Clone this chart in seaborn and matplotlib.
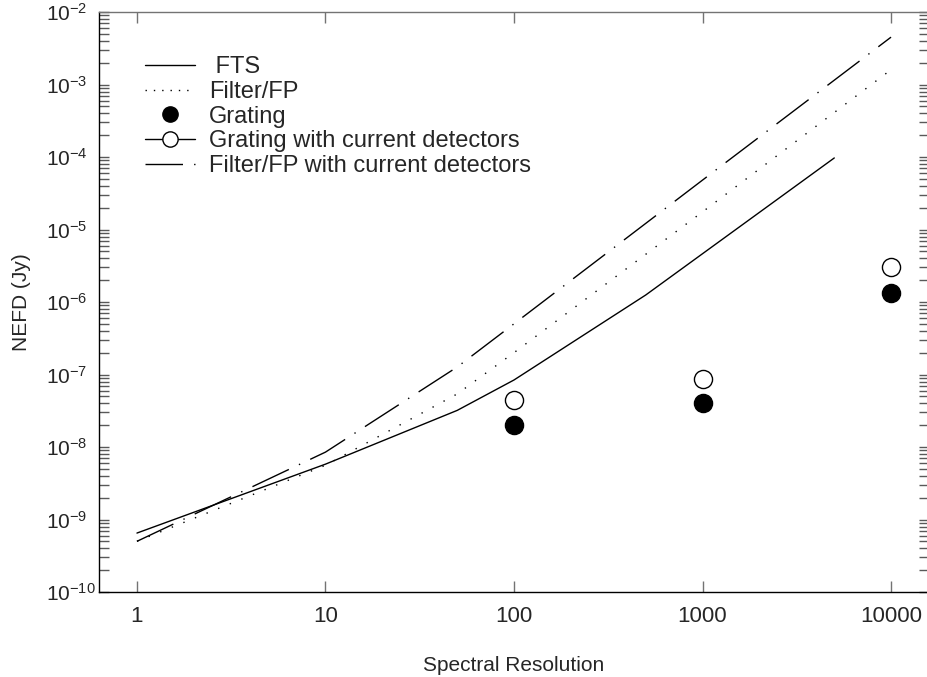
import matplotlib
matplotlib.use("Agg")
import matplotlib.pyplot as plt
from matplotlib.lines import Line2D
from matplotlib.ticker import (LogLocator, NullLocator, FixedLocator,
                               FixedFormatter, LogFormatterSciNotation)
import pandas as pd
import seaborn as sns

# data (spectral resolution vs NEFD in Jy)
r_fts = [1, 10, 50, 100, 500, 5000]
nefd_fts = [6.5e-10, 5.8e-9, 3.2e-8, 8.4e-8, 1.25e-6, 9.7e-5]

r_filter = [1, 10, 50, 100, 1000, 10000]
nefd_filter = [5.0e-10, 5.6e-9, 5.4e-8, 2.0e-7, 1.75e-5, 1.6e-3]

r_filter_cur = [1, 10, 50, 100, 1000, 10000]
nefd_filter_cur = [5.0e-10, 8.5e-9, 1.27e-7, 5.0e-7, 4.8e-5, 4.5e-3]

r_grating = [100, 1000, 10000]
nefd_grating = [2.0e-8, 4.0e-8, 1.33e-6]
nefd_grating_cur = [4.4e-8, 8.7e-8, 3.0e-6]

x_ticks = [1, 10, 100, 1000, 10000]
x_ticklabels = ["1", "10", "100", "1000", "10000"]
y_ticks = [1e-10, 1e-9, 1e-8, 1e-7, 1e-6, 1e-5, 1e-4, 1e-3, 1e-2]

sns.set_style("ticks")
plt.rcParams["font.family"] = ["Liberation Sans", "DejaVu Sans"]
plt.rcParams["mathtext.fontset"] = "custom"
plt.rcParams["mathtext.rm"] = "Liberation Sans"
plt.rcParams["mathtext.it"] = "Liberation Sans:italic"
plt.rcParams["mathtext.default"] = "regular"

fig = plt.figure(figsize=(9.27, 6.77), dpi=100)
ax = fig.add_axes([99 / 927, 1 - 592 / 677, 830 / 927, 580 / 677])

fts = pd.DataFrame({"R": r_fts, "NEFD": nefd_fts})
filt = pd.DataFrame({"R": r_filter, "NEFD": nefd_filter})
filt_cur = pd.DataFrame({"R": r_filter_cur, "NEFD": nefd_filter_cur})
grat = pd.DataFrame({"R": r_grating, "NEFD": nefd_grating, "NEFD_cur": nefd_grating_cur})

sns.lineplot(data=fts, x="R", y="NEFD", ax=ax, color="black", lw=1.0)
sns.lineplot(data=filt, x="R", y="NEFD", ax=ax, color="black", lw=1.0)
ax.lines[-1].set_dashes((1, 8))
sns.lineplot(data=filt_cur, x="R", y="NEFD", ax=ax, color="black", lw=1.0)
ax.lines[-1].set_dashes((29, 8, 1, 8))

sns.scatterplot(data=grat, x="R", y="NEFD_cur", ax=ax, s=170, color="white",
                edgecolor="black", linewidth=1.0, zorder=3)
sns.scatterplot(data=grat, x="R", y="NEFD", ax=ax, s=170, color="black",
                edgecolor="black", linewidth=1.0, zorder=3)

ax.set_xscale("log")
ax.set_yscale("log")
ax.set_xlim(0.629, 15900)
ax.set_ylim(1e-10, 1e-2)

ax.xaxis.set_major_locator(FixedLocator(x_ticks))
ax.xaxis.set_major_formatter(FixedFormatter(x_ticklabels))
ax.xaxis.set_minor_locator(NullLocator())
ax.yaxis.set_major_locator(FixedLocator(y_ticks))
ax.yaxis.set_major_formatter(LogFormatterSciNotation())
ax.yaxis.set_minor_locator(LogLocator(base=10, subs=range(2, 10), numticks=20))

ax.tick_params(axis="x", which="major", direction="in", top=True, bottom=True,
               length=8, width=1.0, color="0.45", labelsize=16, pad=10)
ax.tick_params(axis="y", which="both", direction="in", left=True, right=True,
               length=7, width=1.0, color="0.35", labelsize=15, pad=38)
for lab in ax.get_yticklabels():
    lab.set_horizontalalignment("left")

for side in ["left", "bottom"]:
    ax.spines[side].set_color("black")
    ax.spines[side].set_linewidth(1.0)
ax.spines["top"].set_color("0.45")
ax.spines["top"].set_linewidth(1.0)
ax.spines["right"].set_visible(False)

ax.set_xlabel("Spectral Resolution", fontsize=15, labelpad=21)
ax.set_ylabel("NEFD (Jy)", fontsize=15, labelpad=11)

handles = [
    Line2D([], [], color="black", lw=1.0),
    Line2D([], [], color="black", lw=1.0, dashes=(1, 5)),
    Line2D([], [], color="black", lw=0, marker="o", markersize=11),
    Line2D([], [], color="black", lw=1.0, marker="o", markersize=11,
           markerfacecolor="white"),
    Line2D([], [], color="black", lw=1.0, dashes=(27, 8, 1, 8)),
]
labels = [" FTS", "Filter/FP", "Grating", "Grating with current detectors",
          "Filter/FP with current detectors"]
ax.legend(handles, labels, loc="upper left", frameon=False, fontsize=17,
          bbox_to_anchor=(145 / 927, 1 - 56 / 677), bbox_transform=fig.transFigure,
          borderaxespad=0, borderpad=0, handlelength=2.1, handletextpad=0.62,
          labelspacing=0.12)

fig.savefig("out.png", dpi=100)
